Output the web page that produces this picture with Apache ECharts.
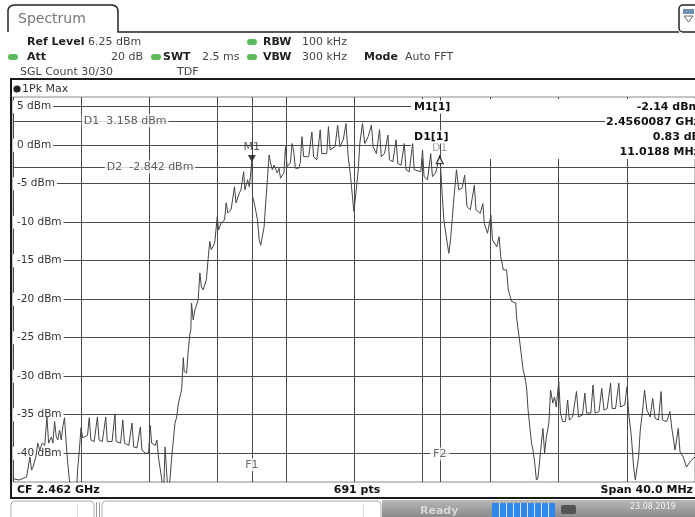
<!DOCTYPE html>
<html><head><meta charset="utf-8">
<script src="https://cdn.jsdelivr.net/npm/echarts@6/dist/echarts.min.js"></script>
<style>html,body{margin:0;padding:0;background:#fff}#c{width:695px;height:517px}</style>
</head><body><div id="c"></div>
<script>
// ---- data (frequency offset from CF in MHz, level in dBm) ----
const traceFreqMHz = [
-20.00,-19.65,-19.20,-19.13,-19.01,-18.91,-18.84,-18.66,-18.55,-18.43,
-18.28,-18.14,-18.01,-17.91,-17.75,-17.66,-17.56,-17.46,-17.37,-17.27,
-17.17,-17.08,-16.98,-16.88,-16.79,-16.69,-16.50,-16.30,-16.21,-16.11,
-16.01,-15.92,-15.82,-15.63,-15.53,-15.43,-15.24,-15.05,-14.95,-14.76,
-14.56,-14.47,-14.19,-14.02,-13.95,-13.69,-13.56,-13.46,-13.21,-13.02,
-12.92,-12.73,-12.53,-12.44,-12.24,-12.05,-11.95,-11.87,-11.66,-11.56,
-11.47,-11.27,-11.18,-11.08,-10.98,-10.89,-10.79,-10.69,-10.50,-10.40,
-10.30,-10.21,-10.11,-10.07,-10.01,-9.96,-9.82,-9.72,-9.62,-9.57,
-9.53,-9.43,-9.33,-9.14,-9.04,-8.95,-8.85,-8.66,-8.56,-8.46,
-8.37,-8.17,-8.02,-7.94,-7.79,-7.59,-7.50,-7.40,-7.21,-7.01,
-6.92,-6.72,-6.63,-6.47,-6.40,-6.24,-6.14,-5.99,-5.95,-5.85,
-5.66,-5.56,-5.47,-5.37,-5.27,-5.18,-5.08,-4.98,-4.89,-4.79,
-4.69,-4.50,-4.40,-4.31,-4.21,-4.11,-4.02,-3.92,-3.82,-3.73,
-3.63,-3.53,-3.44,-3.34,-3.24,-3.15,-3.05,-2.95,-2.66,-2.47,
-2.37,-2.18,-1.98,-1.89,-1.60,-1.50,-1.40,-1.11,-0.96,-0.82,
-0.63,-0.47,-0.34,-0.20,-0.09,-0.01,0.07,0.15,0.25,0.34,
0.50,0.63,0.83,1.02,1.12,1.31,1.50,1.60,1.79,1.99,
2.08,2.28,2.47,2.57,2.76,2.95,3.05,3.24,3.44,3.53,
3.63,3.92,4.02,4.11,4.31,4.50,4.60,4.79,5.03,5.08,
5.18,5.27,5.47,5.56,5.66,5.76,5.85,6.01,6.14,6.34,
6.49,6.63,6.82,7.06,7.15,7.40,7.56,7.64,7.83,8.03,
8.12,8.37,8.51,8.61,8.76,8.95,9.05,9.24,9.49,9.53,
9.73,9.92,10.02,10.12,10.21,10.41,10.50,10.60,10.70,10.79,
10.85,10.99,11.08,11.18,11.28,11.43,11.53,11.66,11.76,11.86,
12.01,12.11,12.24,12.40,12.53,12.63,12.82,13.05,13.17,13.40,
13.54,13.64,13.89,14.02,14.14,14.37,14.53,14.66,14.85,15.05,
15.14,15.34,15.53,15.63,15.88,16.01,16.11,16.27,16.40,16.50,
16.60,16.69,16.79,16.93,17.04,17.18,17.37,17.52,17.66,17.86,
18.01,18.09,18.34,18.53,18.63,18.83,19.02,19.12,19.31,19.50,
19.75,20.00];
const traceLevelDbm = [
-43.3,-43.5,-43.1,-43.1,-40.5,-42.2,-41.9,-40.5,-38.7,-39.6,
-38.7,-39.0,-35.3,-38.7,-37.9,-38.7,-35.9,-37.9,-38.3,-37.0,
-38.3,-36.6,-35.4,-38.7,-41.3,-43.5,-46,-46,-42.2,-39.6,
-36.7,-38.0,-37.9,-37.7,-35.4,-38.3,-38.5,-35.3,-38.3,-38.5,
-35.3,-38.5,-38.5,-34.9,-38.5,-38.7,-35.7,-38.7,-39.0,-36.1,
-39.2,-39.3,-36.6,-39.6,-40.0,-40.0,-36.4,-38.7,-39.0,-38.3,
-40.5,-43.5,-46,-39.2,-39.2,-46,-46,-40.5,-36.1,-35.3,
-33.5,-32.7,-31.8,-30.1,-27.6,-29.4,-29.6,-26.6,-24.4,-24.0,
-20.5,-22.7,-21.4,-20.1,-16.6,-18.4,-18.8,-17.5,-14.9,-12.5,
-13.6,-12.7,-9.3,-11.0,-10.1,-9.7,-7.5,-8.8,-8.4,-5.4,
-7.5,-6.2,-5.8,-3.45,-5.8,-4.5,-5.4,-2.14,-6.7,-7.5,
-9.7,-12.3,-13.0,-13.2,-10.6,-7.5,-4.5,-1.3,-2.3,-3.2,
-2.6,-3.6,-3.0,-4.3,-3.9,-3.6,-0.2,-2.8,-2.8,-2.3,
0.2,-0.9,-3.0,-3.0,-3.0,-2.3,1.1,-1.5,-1.5,1.7,
-1.5,-1.9,2.0,-1.1,-1.1,2.4,-0.6,-0.2,2.6,-0.2,
0.7,2.8,-1.5,-4.1,-6.7,-8.6,-7.1,-5.4,-3.2,0.2,
2.8,0.2,1.1,2.6,-0.2,-1.1,2.0,-1.5,-1.1,1.3,
-1.9,-2.15,0.7,-2.4,-2.6,0.2,-3.2,-3.45,0.2,-3.2,
-3.2,-3.45,-0.6,-4.1,-4.5,-1.1,-4.1,-3.6,-1.31,-2.8,
-6.7,-9.7,-12.75,-14.05,-12.3,-9.7,-7.1,-3.2,-5.8,-5.6,
-3.9,-8.0,-8.4,-5.2,-8.4,-8.85,-7.6,-10.15,-11.45,-9.1,
-12.3,-13.2,-11.9,-14.5,-16.2,-16.2,-18.8,-20.3,-20.5,-22.3,
-25.7,-29.2,-30.1,-31.4,-34.4,-38.7,-39.6,-41.3,-43.5,-43.2,
-43.2,-38.7,-36.8,-40.0,-37.9,-36.1,-31.8,-33.5,-32.7,-34.0,
-30.7,-34.8,-35.9,-35.9,-33.1,-35.7,-35.3,-32.0,-35.3,-35.05,
-32.2,-34.8,-34.8,-31.15,-34.8,-34.6,-31.6,-34.4,-34.2,-30.9,
-34.2,-34.2,-30.9,-34.0,-33.75,-31.4,-34.8,-37.9,-41.8,-43.5,
-43.5,-40.5,-37.0,-34.4,-31.8,-34.4,-35.3,-32.9,-35.5,-35.7,
-32.0,-35.7,-35.9,-34.6,-36.6,-39.6,-36.8,-39.8,-40.5,-41.8,
-41.0,-40.5];

const yTickDbm = [5, 0, -5, -10, -15, -20, -25, -30, -35, -40];
const refLevelDbm = 6.25;
const rangeDb = 50;
const centerFreqGHz = 2.462;
const spanMHz = 40;
const xGridStepMHz = 4;
const sweepPoints = 691;
const displayLineNames = ['D1', 'D2'];
const displayLineDbm = [3.158, -2.842];
const m1FreqGHz = 2.4560087;
const m1LevelDbm = -2.14;
const d1DeltaDb = 0.83;
const d1DeltaMHz = 11.0188;

// ---- derived ----
const traceData = traceFreqMHz.map((f, i) => [f, traceLevelDbm[i]]);
const m1F = (m1FreqGHz - centerFreqGHz) * 1000;
const d1F = m1F + d1DeltaMHz;
const d1L = m1LevelDbm + d1DeltaDb;

const FONT = 'DejaVu Sans';
const chart = echarts.init(document.getElementById('c'), null, {renderer: 'canvas'});

function txt(x, y, s, o) {
  o = o || {};
  return {type: 'text', x: x, y: y, z: o.z != null ? o.z : 10, silent: true,
    style: Object.assign({text: s, fill: o.fill || '#333', font: (o.bold ? 'bold ' : '') + (o.size || 11) + 'px "' + FONT + '"',
      textAlign: o.align || 'left', textVerticalAlign: 'middle'}, o.style || {})};
}
function dot(cx, cy) {
  return {type: 'rect', z: 10, silent: true, shape: {x: cx - 5, y: cy - 3, width: 10, height: 6, r: 3}, style: {fill: '#5cb85c'}};
}
const whiteBg = {backgroundColor: '#fff', padding: [1, 1]};

const graphics = [
  // tab & header
  {type: 'polyline', z: 10, silent: true,
    shape: {points: [[8, 32], [8, 10], [9, 7.5], [11, 5.8], [14, 5], [112, 5], [115, 5.8], [117, 7.5], [118, 10], [118, 32], [679, 32]]},
    style: {fill: 'none', stroke: '#222', lineWidth: 1.5}},
  {type: 'rect', z: 10, silent: true, shape: {x: 679, y: 5, width: 22, height: 27, r: 4}, style: {fill: '#fff', stroke: '#222', lineWidth: 1.5}},
  {type: 'rect', z: 10, silent: true, shape: {x: 683, y: 9, width: 11, height: 5}, style: {fill: '#6f8fb0'}},
  {type: 'polygon', z: 10, silent: true, shape: {points: [[684, 16], [693, 16], [688.5, 22]]}, style: {fill: 'none', stroke: '#666', lineWidth: 1}},
  txt(18, 19, 'Spectrum', {size: 14, fill: '#777'}),
  txt(27, 42, 'Ref Level', {bold: true, fill: '#222'}),
  txt(88, 42, refLevelDbm.toFixed(2) + ' dBm', {fill: '#444'}),
  dot(252, 42), txt(263, 42, 'RBW', {bold: true, fill: '#222'}), txt(302, 42, '100 kHz', {fill: '#444'}),
  dot(13, 57), txt(27, 57, 'Att', {bold: true, fill: '#222'}), txt(143, 57, '20 dB', {fill: '#444', align: 'right'}),
  dot(156, 57), txt(163, 57, 'SWT', {bold: true, fill: '#222'}), txt(202, 57, '2.5 ms', {fill: '#444'}),
  dot(252, 57), txt(263, 57, 'VBW', {bold: true, fill: '#222'}), txt(302, 57, '300 kHz', {fill: '#444'}),
  txt(364, 57, 'Mode', {bold: true, fill: '#222'}), txt(405, 57, 'Auto FFT', {fill: '#444'}),
  txt(20, 72, 'SGL Count 30/30', {fill: '#444'}), txt(177, 72, 'TDF', {fill: '#444'}),
  // frame
  {type: 'rect', z: 10, silent: true, shape: {x: 11, y: 79, width: 700, height: 419}, style: {fill: 'none', stroke: '#1a1a1a', lineWidth: 2}},
  {type: 'circle', z: 10, silent: true, shape: {cx: 17, cy: 89, r: 3.6}, style: {fill: '#222'}},
  txt(22, 89, '1Pk Max', {fill: '#333'}),
  // bottom bar
  txt(17, 490, 'CF ' + centerFreqGHz.toFixed(3) + ' GHz', {bold: true, fill: '#111'}),
  txt(357, 490, sweepPoints + ' pts', {bold: true, fill: '#111', align: 'center'}),
  txt(693, 490, 'Span ' + spanMHz.toFixed(1) + ' MHz', {bold: true, fill: '#111', align: 'right'}),
  // marker table
  {type: 'rect', z: 1, silent: true, shape: {x: 411, y: 99, width: 291, height: 60}, style: {fill: '#fff'}},
  txt(413, 107, 'M1[1]', {bold: true, fill: '#111', style: whiteBg}),
  txt(413, 137, 'D1[1]', {bold: true, fill: '#111', style: whiteBg}),
  txt(701, 107, m1LevelDbm.toFixed(2) + ' dBm', {bold: true, fill: '#111', align: 'right', style: whiteBg}),
  txt(701, 122, m1FreqGHz.toFixed(7) + ' GHz', {bold: true, fill: '#111', align: 'right', style: whiteBg}),
  txt(701, 137, d1DeltaDb.toFixed(2) + ' dB', {bold: true, fill: '#111', align: 'right', style: whiteBg}),
  txt(701, 152, d1DeltaMHz.toFixed(4) + ' MHz', {bold: true, fill: '#111', align: 'right', style: whiteBg}),
  // status bar
  {type: 'rect', z: 10, silent: true, shape: {x: 11, y: 501, width: 83, height: 22, r: 4}, style: {fill: '#fff', stroke: '#aaa', lineWidth: 1}},
  {type: 'line', z: 10, silent: true, shape: {x1: 77.5, y1: 504, x2: 77.5, y2: 517}, style: {stroke: '#ddd'}},
  {type: 'line', z: 10, silent: true, shape: {x1: 96.5, y1: 502, x2: 96.5, y2: 517}, style: {stroke: '#999'}},
  {type: 'line', z: 10, silent: true, shape: {x1: 99.5, y1: 502, x2: 99.5, y2: 517}, style: {stroke: '#999'}},
  {type: 'rect', z: 10, silent: true, shape: {x: 102, y: 501, width: 279, height: 22, r: 4}, style: {fill: '#fff', stroke: '#aaa', lineWidth: 1}},
  {type: 'line', z: 10, silent: true, shape: {x1: 363.5, y1: 504, x2: 363.5, y2: 517}, style: {stroke: '#ddd'}},
  {type: 'rect', z: 10, silent: true, shape: {x: 382, y: 500, width: 313, height: 17},
    style: {fill: new echarts.graphic.LinearGradient(0, 0, 0, 1, [{offset: 0, color: '#b8b8b8'}, {offset: 1, color: '#8a8a8a'}])}},
  txt(420, 511, 'Ready', {bold: true, fill: '#d8d8d8'}),
  {type: 'rect', z: 10, silent: true, shape: {x: 492, y: 503, width: 63, height: 14}, style: {fill: '#2f88ea'}},
  ...[1, 2, 3, 4, 5, 6, 7, 8].map(i => ({type: 'line', z: 11, silent: true, shape: {x1: 492.5 + i * 7, y1: 503, x2: 492.5 + i * 7, y2: 517}, style: {stroke: '#d8e8fa'}})),
  {type: 'rect', z: 10, silent: true, shape: {x: 561, y: 505, width: 15, height: 9, r: 2}, style: {fill: '#555'}},
  txt(630, 507, '23.08.2019', {size: 8, fill: '#f2f2f2'})
];

const labelItem = (value, text, extra) => ({value: value, label: Object.assign({show: true, formatter: text,
  fontFamily: FONT, fontSize: 11, color: '#333'}, extra)});

const option = {
  animation: false,
  backgroundColor: '#fff',
  grid: {left: 13, top: 97, width: 689, height: 385, show: true, borderColor: '#8a8a8a', borderWidth: 1, backgroundColor: 'transparent'},
  xAxis: {type: 'value', min: -spanMHz / 2, max: spanMHz / 2, interval: xGridStepMHz,
    axisLine: {show: false}, axisTick: {show: false}, axisLabel: {show: false},
    splitLine: {show: true, lineStyle: {color: '#4a4a4a', width: 1}}},
  yAxis: {type: 'value', min: refLevelDbm - rangeDb, max: refLevelDbm,
    axisLine: {show: false}, axisTick: {show: false, customValues: yTickDbm},
    axisLabel: {customValues: yTickDbm, inside: true, margin: 0, formatter: v => v + ' dBm',
      fontFamily: FONT, fontSize: 10.5, color: '#333', backgroundColor: '#fff', padding: [1, 2, 1, 4]},
    splitLine: {show: true, lineStyle: {color: '#4a4a4a', width: 1}}},
  graphic: graphics,
  series: [
    {type: 'line', name: '1Pk Max', data: traceData, showSymbol: false, symbol: 'none', z: 2, clip: true,
      lineStyle: {color: '#444', width: 1}, silent: true,
      markLine: {silent: true, symbol: 'none', animation: false, label: {show: false},
        lineStyle: {color: '#4a4a4a', width: 1, type: 'solid'},
        data: [{xAxis: m1F}, {xAxis: d1F}].concat(displayLineDbm.map(v => ({yAxis: v})))}},
    {type: 'scatter', name: 'markers', z: 7, silent: true,
      data: [
        {value: [m1F, m1LevelDbm], symbol: 'triangle', symbolRotate: 180, symbolSize: [8, 7], symbolOffset: [0, -3], itemStyle: {color: '#111'}},
        {value: [d1F, d1L], symbol: 'triangle', symbolSize: [7, 7], symbolOffset: [0, 5], itemStyle: {color: '#fff', borderColor: '#111', borderWidth: 1.3}}
      ]},
    {type: 'scatter', name: 'labels', z: 8, silent: true, symbolSize: 1, itemStyle: {color: 'rgba(0,0,0,0)'},
      data: [
        labelItem([-16.0, displayLineDbm[0]], displayLineNames[0] + '  ' + displayLineDbm[0].toFixed(3) + ' dBm', {position: 'right', distance: 0, backgroundColor: '#fff', padding: [1, 2]}),
        labelItem([-14.65, displayLineDbm[1]], displayLineNames[1] + '  ' + displayLineDbm[1].toFixed(3) + ' dBm', {position: 'right', distance: 0, backgroundColor: '#fff', padding: [1, 2]}),
        labelItem([m1F, -41.5], 'F1', {position: 'inside', backgroundColor: '#fff', padding: [1, 2], color: '#444'}),
        labelItem([d1F, -40.1], 'F2', {position: 'inside', backgroundColor: '#fff', padding: [1, 3], color: '#444'}),
        labelItem([m1F, m1LevelDbm], 'M1', {position: 'inside', offset: [0, -14], color: '#333'}),
        labelItem([d1F, d1L], 'D1', {position: 'inside', offset: [0, -7], color: '#888'})
      ]}
  ]
};
chart.setOption(option);
</script>
</body></html>
